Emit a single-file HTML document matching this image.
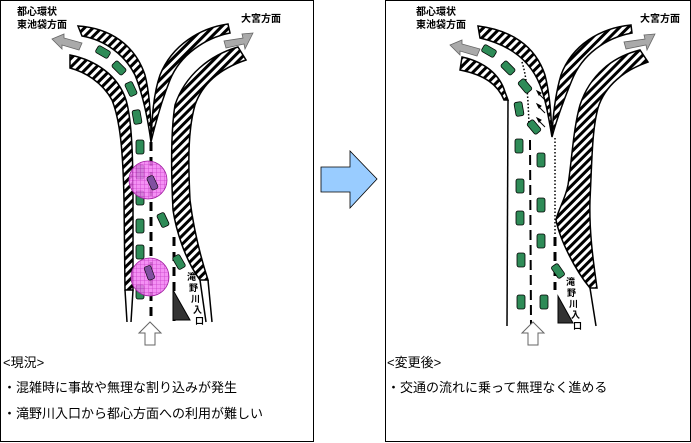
<!DOCTYPE html>
<html><head><meta charset="utf-8"><style>
html,body{margin:0;padding:0;background:#fff}
svg{display:block}
text{font-family:"Liberation Sans","Noto Sans CJK JP",sans-serif}
</style></head><body>
<svg width="691" height="443" viewBox="0 0 691 443" xmlns="http://www.w3.org/2000/svg">
<defs>
<pattern id="h" patternUnits="userSpaceOnUse" width="6" height="6" patternTransform="rotate(45)">
<rect width="6" height="6" fill="#fff"/><rect width="3" height="6" fill="#000"/></pattern>
<pattern id="g" patternUnits="userSpaceOnUse" width="4" height="4">
<rect width="4" height="4" fill="#f27cf2"/><path d="M0 0H4M0 0V4" stroke="#c020c0" stroke-width="0.8"/></pattern>
<g id="car"><rect x="-4" y="-7" width="8" height="14" rx="2" fill="#2e8b57" stroke="#000" stroke-width="0.8"/></g>
</defs>
<rect x="0.5" y="0.5" width="313" height="441" fill="none" stroke="#000"/>
<rect x="385.5" y="0.5" width="305" height="441" fill="none" stroke="#000"/>

<!-- LEFT PANEL -->
<g stroke="#000" stroke-width="1.5">
<path d="M70 55 C95 60 118 75 126 100 C132 120 133 160 133 200 L133 290 L125 290 L124 200 C123 150 120 120 112 100 C102 82 85 72 70 68 Z" fill="url(#h)"/>
<path d="M78 26 C110 28 135 45 145 75 C150 95 151 120 151 140 C152 120 153 95 160 75 C172 45 200 28 228 24 L230 33 C205 38 180 55 170 80 C162 100 155 125 151 142 C148 120 143 95 135 75 C125 55 105 40 82 36 Z" fill="url(#h)"/>
<path d="M238 47 C210 55 185 75 175 105 C171 130 171 170 173 210 C176 230 185 260 200 280 L208 280 C200 255 193 225 190 200 C188 160 188 130 195 105 C203 82 222 68 246 60 Z" fill="url(#h)"/>
<path d="M125 290 L127 322 M133 290 L131 322 M200 280 L206 322 M208 280 L212 322" fill="none"/>
</g>
<line x1="151" y1="142" x2="151" y2="322" stroke="#000" stroke-width="3" stroke-dasharray="9,6"/>
<line x1="174" y1="237" x2="174" y2="322" stroke="#000" stroke-width="3" stroke-dasharray="9,6"/>
<polygon points="173,290 173,320 190,320" fill="#333" stroke="#000"/>
<g>
<use href="#car" transform="translate(103,52) rotate(-60)"/>
<use href="#car" transform="translate(119,68) rotate(-45)"/>
<use href="#car" transform="translate(131,89) rotate(-25)"/>
<use href="#car" transform="translate(137,117) rotate(-10)"/>
<use href="#car" transform="translate(140,147)"/>
<use href="#car" transform="translate(140,172)"/>
<use href="#car" transform="translate(140,198)"/>
<use href="#car" transform="translate(140,226)"/>
<use href="#car" transform="translate(140,252)"/>
<use href="#car" transform="translate(140,292)"/>
<use href="#car" transform="translate(163,220) rotate(-25)"/>
<use href="#car" transform="translate(179,262) rotate(-30)"/>
</g>
<circle cx="148" cy="180" r="19" fill="url(#g)" fill-opacity="0.85" stroke="#a020a0" stroke-width="0.8"/>
<circle cx="150" cy="277" r="19" fill="url(#g)" fill-opacity="0.85" stroke="#a020a0" stroke-width="0.8"/>
<rect x="149" y="176" width="7" height="14" rx="2" fill="#8050a0" stroke="#000" stroke-width="0.6" transform="rotate(-25 152 183)"/>
<rect x="146" y="266" width="7" height="14" rx="2" fill="#8050a0" stroke="#000" stroke-width="0.6" transform="rotate(-20 149 273)"/>
<polygon points="52,39 64,34 64,38 82,43 79,50 62,45 62,49" fill="#aaa" stroke="#666" stroke-width="0.8"/>
<polygon points="253,33 242,34 243,38 224,41 226,48 244,44 245,49" fill="#aaa" stroke="#666" stroke-width="0.8"/>
<polygon points="150,322 139,333 145,333 145,345 155,345 155,333 161,333" fill="#fff" stroke="#666"/>
<text x="17" y="15" font-size="10" font-weight="bold">都心環状</text>
<text x="17" y="28" font-size="10" font-weight="bold">東池袋方面</text>
<text x="241" y="22" font-size="10" font-weight="bold">大宮方面</text>
<text font-size="9" font-weight="bold" fill="#000"><tspan x="187" y="280">滝</tspan><tspan x="189" y="291">野</tspan><tspan x="191" y="302">川</tspan><tspan x="193" y="313">入</tspan><tspan x="195" y="324">口</tspan></text>
<text x="3" y="367" font-size="13">&lt;現況&gt;</text>
<text x="3" y="392" font-size="13">・混雑時に事故や無理な割り込みが発生</text>
<text x="3" y="418" font-size="13">・滝野川入口から都心方面への利用が難しい</text>

<!-- Middle arrow -->
<polygon points="321,167 350,167 350,151 377,179 350,208 350,192 321,192" fill="#99ccff" stroke="#000" stroke-width="0.8"/>

<!-- RIGHT PANEL -->
<g stroke="#000" stroke-width="1.5">
<path d="M462 57 C485 62 500 75 505 92 L508 100 L504 100 C498 85 485 75 460 70 Z" fill="url(#h)"/>
<path d="M508 100 L507 326" fill="none"/>
<path d="M478 26 C510 30 535 45 545 75 C550 95 551 115 552 135 C553 115 555 95 561 75 C572 45 600 28 631 25 L632 33 C605 38 582 55 572 80 C563 102 556 122 552 137 C549 120 546 100 540 85 C530 60 510 45 480 38 Z" fill="url(#h)"/>
<path d="M640 50 C612 57 590 75 580 105 C573 130 572 160 568 185 C565 200 558 210 556 220 C560 240 575 270 590 288 L597 288 C593 260 589 230 590 200 C592 160 592 130 598 108 C605 85 625 70 648 62 Z" fill="url(#h)"/>
<path d="M590 288 L596 326" fill="none"/>
</g>
<line x1="555" y1="138" x2="555" y2="235" stroke="#000" stroke-width="1.5" stroke-dasharray="1.5,2"/>
<line x1="555" y1="237" x2="555" y2="290" stroke="#000" stroke-width="3" stroke-dasharray="9,6"/>
<line x1="530" y1="140" x2="531" y2="325" stroke="#000" stroke-width="2" stroke-dasharray="10,5"/>
<path d="M522 62 C526 75 528 90 529 127" fill="none" stroke="#000" stroke-width="1.5" stroke-dasharray="1.5,2"/>
<g stroke="#000" stroke-width="1">
<line x1="545" y1="100" x2="538" y2="93"/><polygon points="537,91 541,93 539,95" />
<line x1="545" y1="113" x2="538" y2="106"/><polygon points="537,104 541,106 539,108"/>
<line x1="545" y1="127" x2="538" y2="120"/><polygon points="537,118 541,120 539,122"/>
</g>
<polygon points="558,296 558,323 573,323" fill="#333" stroke="#000"/>
<g>
<use href="#car" transform="translate(489,51) rotate(-60)"/>
<use href="#car" transform="translate(508,68) rotate(-45)"/>
<use href="#car" transform="translate(525,86) rotate(-40)"/>
<use href="#car" transform="translate(519,109) rotate(-10)"/>
<use href="#car" transform="translate(534,127) rotate(-40)"/>
<use href="#car" transform="translate(519,146)"/>
<use href="#car" transform="translate(541,160)"/>
<use href="#car" transform="translate(520,186)"/>
<use href="#car" transform="translate(541,205)"/>
<use href="#car" transform="translate(520,218)"/>
<use href="#car" transform="translate(541,241)"/>
<use href="#car" transform="translate(521,260)"/>
<use href="#car" transform="translate(558,271) rotate(-35)"/>
<use href="#car" transform="translate(521,302)"/>
<use href="#car" transform="translate(544,302)"/>
</g>
<polygon points="450,45 462,40 462,44 480,49 477,56 460,51 460,55" fill="#aaa" stroke="#666" stroke-width="0.8"/>
<polygon points="655,34 644,35 645,39 624,42 626,49 646,45 647,50" fill="#aaa" stroke="#666" stroke-width="0.8"/>
<polygon points="533,322 522,333 528,333 528,345 538,345 538,333 544,333" fill="#fff" stroke="#666"/>
<text x="416" y="15" font-size="10" font-weight="bold">都心環状</text>
<text x="416" y="28" font-size="10" font-weight="bold">東池袋方面</text>
<text x="640" y="22" font-size="10" font-weight="bold">大宮方面</text>
<text font-size="9" font-weight="bold" fill="#000"><tspan x="566" y="285">滝</tspan><tspan x="567" y="296">野</tspan><tspan x="569" y="307">川</tspan><tspan x="571" y="318">入</tspan><tspan x="573" y="329">口</tspan></text>
<text x="387" y="367" font-size="13">&lt;変更後&gt;</text>
<text x="387" y="392" font-size="13">・交通の流れに乗って無理なく進める</text>
</svg>
</body></html>
